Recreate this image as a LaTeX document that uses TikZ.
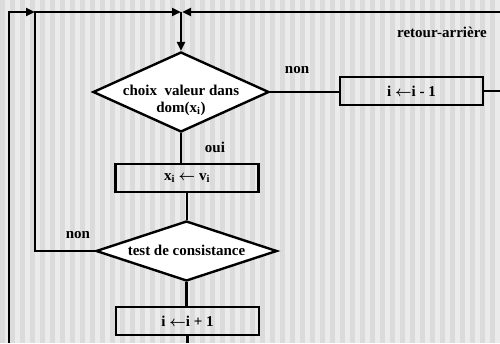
\documentclass[tikz,border=0pt]{standalone}
\usepackage{fontspec}
\setmainfont{Liberation Serif}
\usetikzlibrary{arrows.meta,shapes.geometric,calc}
\definecolor{LightClr}{gray}{0.92}
\definecolor{DarkClr}{gray}{0.86}

% text centred on the node, taking no room of its own
\newcommand{\flattxt}[2][0pt]{\smash{\makebox[0pt]{\raisebox{#1}{#2}}}}

\begin{document}
\begin{tikzpicture}[x=1pt,y=-1pt,line width=2.4pt,
  font=\fontsize{15}{17}\selectfont\bfseries,
  flow/.style={-{Triangle[length=9pt,width=8pt]}},
  cond/.style={diamond,draw,fill=white,inner sep=0pt},
  act/.style={rectangle,draw,inner sep=0pt,minimum width=143pt,minimum height=28pt},
  lbl/.style={anchor=base,inner sep=0pt}]

% striped background
\fill[LightClr] (0,0) rectangle (500,343);
\foreach \x in {0,10,...,490}
  \fill[DarkClr] (\x,0) rectangle ++(5,343);
\useasboundingbox (0,0) rectangle (500,343);
\clip (0,0) rectangle (500,343);

\coordinate (top) at (181,12);
\coordinate (loopA) at (35,12);
\coordinate (bot) at (9,343);
\coordinate (redge) at (500,12);

\node[cond,minimum width=176pt,minimum height=80pt] (d1) at (181,92)
  {\flattxt[-3pt]{\begin{tabular}[t]{@{}c@{}}choix\ \ valeur dans\\dom(x\textsubscript{i})\end{tabular}}};
\node[act] (b3) at (411.5,91) {i {\boldmath$\leftarrow$}i - 1};
\node[act] (b1) at (187,178) {x\textsubscript{i} {\boldmath$\leftarrow$} v\textsubscript{i}};
\node[cond,minimum width=181pt,minimum height=60pt] (d2) at (186.5,251)
  {\flattxt[-4pt]{test de consistance}};
\node[act] (b2) at (187.5,321) {i {\boldmath$\leftarrow$}i + 1};

\node[lbl] (non1) at (297,73) {non};
\node[lbl] (back) at (442,37) {retour-arrière};
\node[lbl] (oui) at (215,152) {oui};
\node[lbl] (non2) at (78,238) {non};

% connectors
\draw[flow] (bot) |- (loopA);
\draw[flow] (d2.west) -| (loopA) -- (top);
\draw[flow] (redge) -- ([xshift=1pt]top);
\draw[flow] (top) -- (d1.north);
\draw (d1.east) -- (d1.east -| b3.west);
\draw (b3.east) -- (b3.east -| redge);
\draw (d1.south) -- (d1.south |- b1.north);
\draw (b1.south) -- (b1.south |- d2.north);
\draw (d2.south) -- (d2.south |- b2.north);
\draw (b2.south) -- (b2.south |- bot);

\end{tikzpicture}
\end{document}
